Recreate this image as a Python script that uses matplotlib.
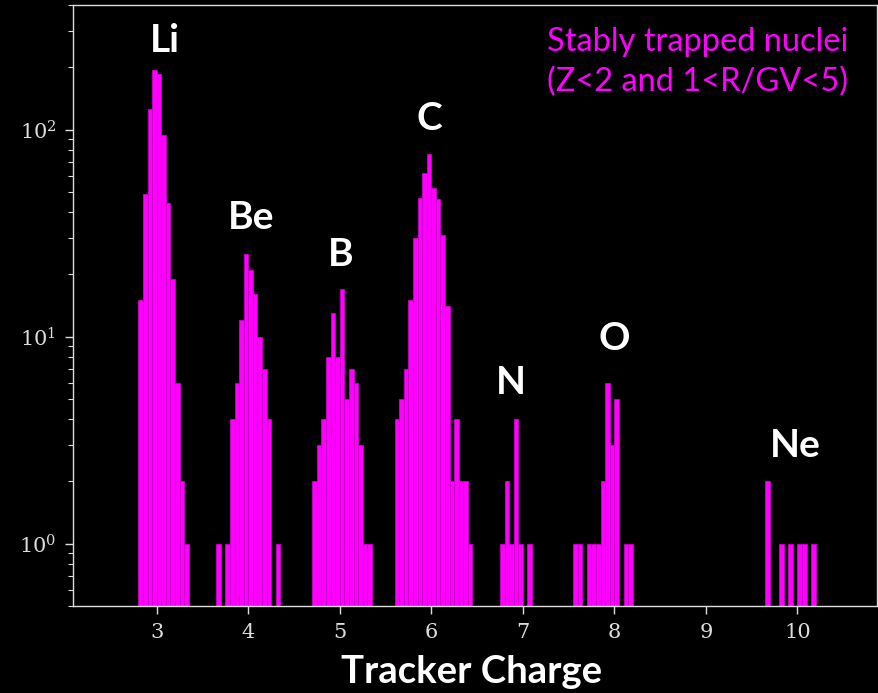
import matplotlib
matplotlib.use("Agg")
import matplotlib.pyplot as plt
from matplotlib.ticker import LogLocator, FixedLocator

plt.rcParams['mathtext.fontset'] = 'dejavuserif'

# tracker charge histogram, 0.05 wide bins (left edge, entries)
bin_left = [
    2.80, 2.85, 2.90, 2.95, 3.00, 3.05, 3.10, 3.15, 3.20, 3.25, 3.30,
    3.65, 3.75, 3.80, 3.85, 3.90, 3.95, 4.00, 4.05, 4.10, 4.15, 4.20, 4.30,
    4.70, 4.75, 4.80, 4.85, 4.90, 4.95, 5.00, 5.05, 5.10, 5.15, 5.20, 5.25, 5.30,
    5.60, 5.65, 5.70, 5.75, 5.80, 5.85, 5.90, 5.95, 6.00, 6.05, 6.10, 6.15,
    6.20, 6.25, 6.30, 6.35, 6.40,
    6.75, 6.80, 6.85, 6.90, 6.95, 7.05,
    7.55, 7.60, 7.70, 7.75, 7.80, 7.85, 7.90, 7.95, 8.00, 8.10, 8.15,
    9.65, 9.80, 9.90, 10.00, 10.05, 10.15,
]
counts = [
    15, 49, 126, 195, 185, 94, 44, 19, 6, 2, 1,
    1, 1, 4, 6, 12, 25, 21, 16, 10, 7, 4, 1,
    2, 3, 4, 8, 13, 8, 17, 5, 7, 6, 3, 1, 1,
    4, 5, 7, 15, 30, 47, 62, 76, 52, 46, 31, 14,
    2, 4, 2, 2, 1,
    1, 2, 1, 4, 1, 1,
    1, 1, 1, 1, 1, 2, 6, 3, 5, 1, 1,
    2, 1, 1, 1, 1, 1,
]
bin_width = 0.05

elements = ["Li", "Be", "B", "C", "N", "O", "Ne"]
label_x = [3.09, 4.03, 5.01, 5.98, 6.87, 8.00, 9.98]
label_y = [238, 33, 21.9, 100, 5.3, 8.6, 2.63]

fig = plt.figure(figsize=(8.79, 6.93), dpi=100, facecolor="black")
ax = fig.add_axes([0.083, 0.1255, 0.9148, 0.8673], facecolor="black")

ax.bar(bin_left, counts, width=bin_width, align="edge",
       color="#ff00ff", edgecolor="#c800c8", linewidth=0.6)

ax.set_yscale("log")
ax.set_xlim(2.085, 10.87)
ax.set_ylim(0.5, 400)

ax.xaxis.set_major_locator(FixedLocator(range(3, 11)))
ax.yaxis.set_major_locator(LogLocator(base=10))
ax.yaxis.set_minor_locator(LogLocator(base=10, subs=range(2, 10)))

for s in ax.spines.values():
    s.set_color("#dddddd")
    s.set_linewidth(1.0)
ax.tick_params(which="major", colors="#dddddd", length=6, width=1, labelsize=15, pad=6)
ax.tick_params(which="minor", colors="#dddddd", length=3.5, width=0.8)
ax.yaxis.set_minor_formatter(plt.NullFormatter())
for lab in ax.get_xticklabels() + ax.get_yticklabels():
    lab.set_family("DejaVu Serif")

for name, x, y in zip(elements, label_x, label_y):
    ax.text(x, y, name, color="white", fontsize=28, fontweight="bold",
            family="Lato", ha="center", va="baseline")

ax.text(0.964, 0.905, "Stably trapped nuclei\n(Z<2 and 1<R/GV<5)",
        transform=ax.transAxes, color="#ff00ff", fontsize=23.5, family="Lato",
        ha="right", va="center", linespacing=1.38)

fig.text(0.537, 0.03, "Tracker Charge", color="white", fontsize=27.5,
         fontweight="bold", family="Lato", ha="center", va="center")

fig.savefig("out.png", dpi=100, facecolor="black")
